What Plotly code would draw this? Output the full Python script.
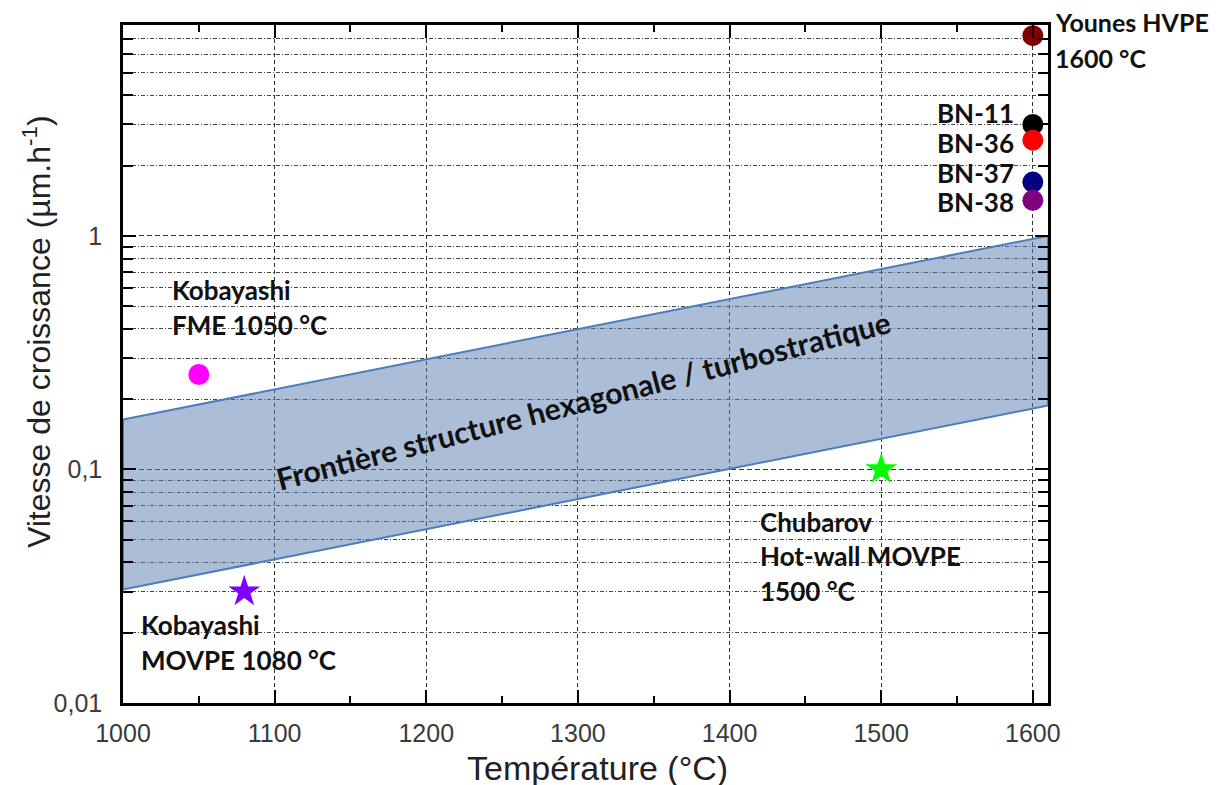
import plotly.graph_objects as go

# ---- data ----
band_x = [1000, 1610]
band_upper = [0.1636, 1.0]
band_lower = [0.0306, 0.1877]

sphere_names = ["Kobayashi FME", "Younes HVPE", "BN-11", "BN-36", "BN-37", "BN-38"]
sphere_x = [1050, 1600, 1600, 1600, 1600, 1600]
sphere_y = [0.255, 7.2, 3.0, 2.57, 1.70, 1.42]
sphere_colors = ["#ff00ff", "#800000", "#000000", "#ff0000", "#000080", "#800080"]

star_names = ["Kobayashi MOVPE", "Chubarov"]
star_x = [1080, 1500]
star_y = [0.030, 0.100]
star_colors = ["#7f00ff", "#00ff00"]

x_ticks = [1000, 1100, 1200, 1300, 1400, 1500, 1600]
x_minor = [1050, 1150, 1250, 1350, 1450, 1550]
y_ticks = [0.01, 0.1, 1]
y_ticktext = ["0,01", "0,1", "1"]
y_minor = [0.02, 0.03, 0.04, 0.05, 0.06, 0.07, 0.08, 0.09,
           0.2, 0.3, 0.4, 0.5, 0.6, 0.7, 0.8, 0.9,
           2, 3, 4, 5, 6, 7]

# ---- figure ----
fig = go.Figure()

poly_x = [band_x[0], band_x[1], band_x[1], band_x[0], band_x[0]]
poly_y = [band_upper[0], band_upper[1], band_lower[1], band_lower[0], band_upper[0]]
fig.add_trace(go.Scatter(
    x=poly_x, y=poly_y, mode="lines", fill="toself",
    fillcolor="rgba(89,125,175,0.5)",
    line=dict(color="#4a7ebb", width=2),
    hoverinfo="skip", showlegend=False))

for n, x, y, c in zip(sphere_names, sphere_x, sphere_y, sphere_colors):
    fig.add_trace(go.Scatter(
        x=[x], y=[y], mode="markers", name=n, showlegend=False, cliponaxis=False,
        marker=dict(size=21, color=c, line=dict(width=0))))

for n, x, y, c in zip(star_names, star_x, star_y, star_colors):
    fig.add_trace(go.Scatter(
        x=[x], y=[y], mode="markers", name=n, showlegend=False, cliponaxis=False,
        marker=dict(size=24, color=c, symbol="star", line=dict(width=0))))

# ---- annotations (paper coordinates, from reference pixel positions) ----
L, R, T, B = 123, 1048, 25, 703          # plot area in the reference picture
OFF = 8                                  # page body margin
W, H = R - L, B - T

def px(xp):
    return (xp - L) / W

def py(yp):
    return (B - yp) / H

lab_font = dict(family="Lato, Carlito, sans-serif", size=26, color="#111111")

def add_label(text, x_px, y_px, anchor="left", font=lab_font):
    fig.add_annotation(text=f"<b>{text}</b>", x=px(x_px), y=py(y_px),
                       xref="paper", yref="paper", xanchor=anchor, yanchor="middle",
                       showarrow=False, font=font)

add_label("Kobayashi", 170, 290)
add_label("FME 1050 °C", 170, 325)
add_label("Kobayashi", 139, 625)
add_label("MOVPE 1080 °C", 139, 660)
add_label("Chubarov", 758, 522)
add_label("Hot-wall MOVPE", 758, 556)
add_label("1500 °C", 758, 591)
small_font = dict(lab_font, size=25)
add_label("Younes HVPE", 1053, 22, font=small_font)
add_label("1600 °C", 1053, 58, font=small_font)
add_label("BN-11", 1016, 113, "right")
add_label("BN-36", 1016, 143, "right")
add_label("BN-37", 1016, 173, "right")
add_label("BN-38", 1016, 202, "right")

fig.add_annotation(text="<b>Frontière structure hexagonale / turbostratique</b>",
                   x=px(583), y=py(400), xref="paper", yref="paper",
                   xanchor="center", yanchor="middle", showarrow=False,
                   textangle=-14.5,
                   font=dict(family="Lato, Carlito, sans-serif", size=30, color="#111111"))

# axis titles (placed like in the reference, slightly off-centre)
fig.add_annotation(text="Température (°C)", x=px(597), y=py(768),
                   xref="paper", yref="paper", xanchor="center", yanchor="middle",
                   showarrow=False,
                   font=dict(family="Liberation Sans, Arial, sans-serif", size=34,
                             color="#222222"))
fig.add_annotation(text="Vitesse de croissance (µm.h<sup>-1</sup>)", x=px(37), y=py(332),
                   xref="paper", yref="paper", xanchor="center", yanchor="middle",
                   showarrow=False, textangle=-90,
                   font=dict(family="Liberation Sans, Arial, sans-serif", size=32,
                             color="#222222"))

tick_font = dict(family="Liberation Sans, Arial, sans-serif", size=25, color="#3a3a3a")

fig.update_layout(
    width=1222, height=785,
    margin=dict(l=L - OFF, r=1222 - R + OFF, t=T - OFF, b=785 - B + OFF),
    paper_bgcolor="white", plot_bgcolor="white",
    showlegend=False,
    xaxis=dict(
        range=[1000, 1610], tickvals=x_ticks, ticks="inside", ticklen=13, tickwidth=2,
        tickcolor="black", showline=True, linecolor="black", linewidth=2.5,
        mirror="allticks", tickfont=tick_font, ticklabelstandoff=6,
        showgrid=True, gridcolor="#333333", gridwidth=1, griddash="4px,3px",
        zeroline=False, automargin=False,
        minor=dict(tickvals=x_minor, ticks="inside", ticklen=7, tickwidth=2,
                   tickcolor="black", showgrid=False),
    ),
    yaxis=dict(
        type="log", range=[-2, 0.903], tickvals=y_ticks, ticktext=y_ticktext,
        ticks="inside", ticklen=13, tickwidth=2, tickcolor="black",
        showline=True, linecolor="black", linewidth=2.5, mirror="allticks",
        tickfont=tick_font, ticklabelstandoff=13,
        showgrid=True, gridcolor="#333333", gridwidth=1, griddash="5px,3px",
        zeroline=False, automargin=False,
        minor=dict(tickvals=y_minor, ticks="inside", ticklen=10, tickwidth=2,
                   tickcolor="black", showgrid=True, gridcolor="#444444", gridwidth=1,
                   griddash="4px,2px,1px,2px"),
    ),
)

fig.write_html("out.html")
